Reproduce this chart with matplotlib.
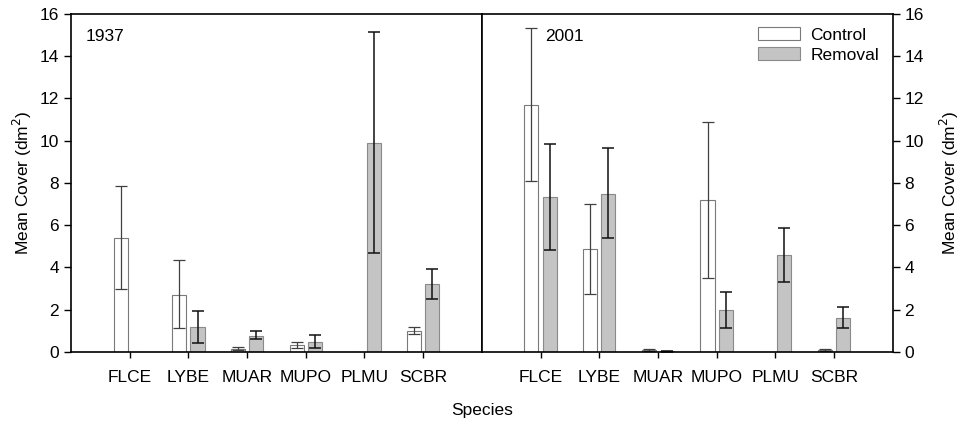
import matplotlib.pyplot as plt
import numpy as np

plt.rcParams['font.family'] = ['Liberation Sans', 'DejaVu Sans']

species = ["FLCE", "LYBE", "MUAR", "MUPO", "PLMU", "SCBR"]

# 1937
ctrl_1937 = [5.4, 2.7, 0.16, 0.31, 0.0, 1.0]
ctrl_1937_lo = [3.0, 1.14, 0.08, 0.18, 0.0, 0.83]
ctrl_1937_hi = [7.84, 4.34, 0.25, 0.45, 0.0, 1.2]
rem_1937 = [0.0, 1.17, 0.75, 0.47, 9.9, 3.2]
rem_1937_lo = [0.0, 0.4, 0.6, 0.2, 4.69, 2.5]
rem_1937_hi = [0.0, 1.92, 0.98, 0.78, 15.16, 3.94]

# 2001
ctrl_2001 = [11.7, 4.89, 0.1, 7.2, 0.0, 0.1]
ctrl_2001_lo = [8.1, 2.73, 0.05, 3.52, 0.0, 0.05]
ctrl_2001_hi = [15.33, 6.98, 0.15, 10.88, 0.0, 0.15]
rem_2001 = [7.34, 7.5, 0.03, 2.0, 4.6, 1.61]
rem_2001_lo = [4.84, 5.39, 0.01, 1.11, 3.33, 1.13]
rem_2001_hi = [9.86, 9.66, 0.05, 2.84, 5.86, 2.13]

panels = [
    ("1937", ctrl_1937, ctrl_1937_lo, ctrl_1937_hi, rem_1937, rem_1937_lo, rem_1937_hi),
    ("2001", ctrl_2001, ctrl_2001_lo, ctrl_2001_hi, rem_2001, rem_2001_lo, rem_2001_hi),
]

fs = 12.5

fig = plt.figure(figsize=(9.64, 4.23), dpi=100)
gs = fig.add_gridspec(1, 2, left=0.0737, right=0.926, top=0.967, bottom=0.168, wspace=0)
axes = [fig.add_subplot(gs[0, 0]), fig.add_subplot(gs[0, 1])]

x = np.arange(len(species))
w = 0.24
off = 0.155

for i, (ax, (year, c, clo, chi, r, rlo, rhi)) in enumerate(zip(axes, panels)):
    c = np.array(c); r = np.array(r)
    cerr = [c - np.array(clo), np.array(chi) - c]
    rerr = [r - np.array(rlo), np.array(rhi) - r]
    ax.bar(x - off, c, w, color="white", edgecolor="#7a7a7a", linewidth=0.8, label="Control")
    ax.bar(x + off, r, w, color="#c4c4c4", edgecolor="#8a8a8a", linewidth=0.8, label="Removal")
    mc = c > 0
    mr = r > 0
    ax.errorbar((x - off)[mc], c[mc], yerr=[cerr[0][mc], cerr[1][mc]], fmt="none",
                ecolor="#404040", elinewidth=0.9, capsize=4, capthick=0.9)
    ax.errorbar((x + off)[mr], r[mr], yerr=[rerr[0][mr], rerr[1][mr]], fmt="none",
                ecolor="#111111", elinewidth=1.1, capsize=4, capthick=1.1)
    ax.set_xlim(-1, 6)
    ax.set_ylim(0, 16)
    ax.set_xticks(x)
    ax.set_xticklabels(species, fontsize=fs)
    ax.set_yticks(range(0, 17, 2))
    ax.tick_params(axis="x", length=4, width=1, pad=9)
    ax.tick_params(axis="y", length=5, width=1, labelsize=fs)
    for s in ax.spines.values():
        s.set_linewidth(1.2)
    ax.text(0.035 if i == 0 else 0.155, 0.955, year, transform=ax.transAxes,
            fontsize=fs, va="top", ha="left")

axes[0].set_ylabel("Mean Cover (dm$^2$)", fontsize=fs)
axes[1].yaxis.tick_right()
axes[1].yaxis.set_label_position("right")
axes[1].set_ylabel("Mean Cover (dm$^2$)", fontsize=fs, labelpad=10)
axes[1].legend(loc="upper right", bbox_to_anchor=(1.005, 1.008), frameon=False, fontsize=fs,
               handlelength=2.4, handleheight=0.8, labelspacing=0.25, handletextpad=0.6)

fig.text(0.5, 0.02, "Species", ha="center", fontsize=fs)

fig.savefig("out.png", dpi=100)
